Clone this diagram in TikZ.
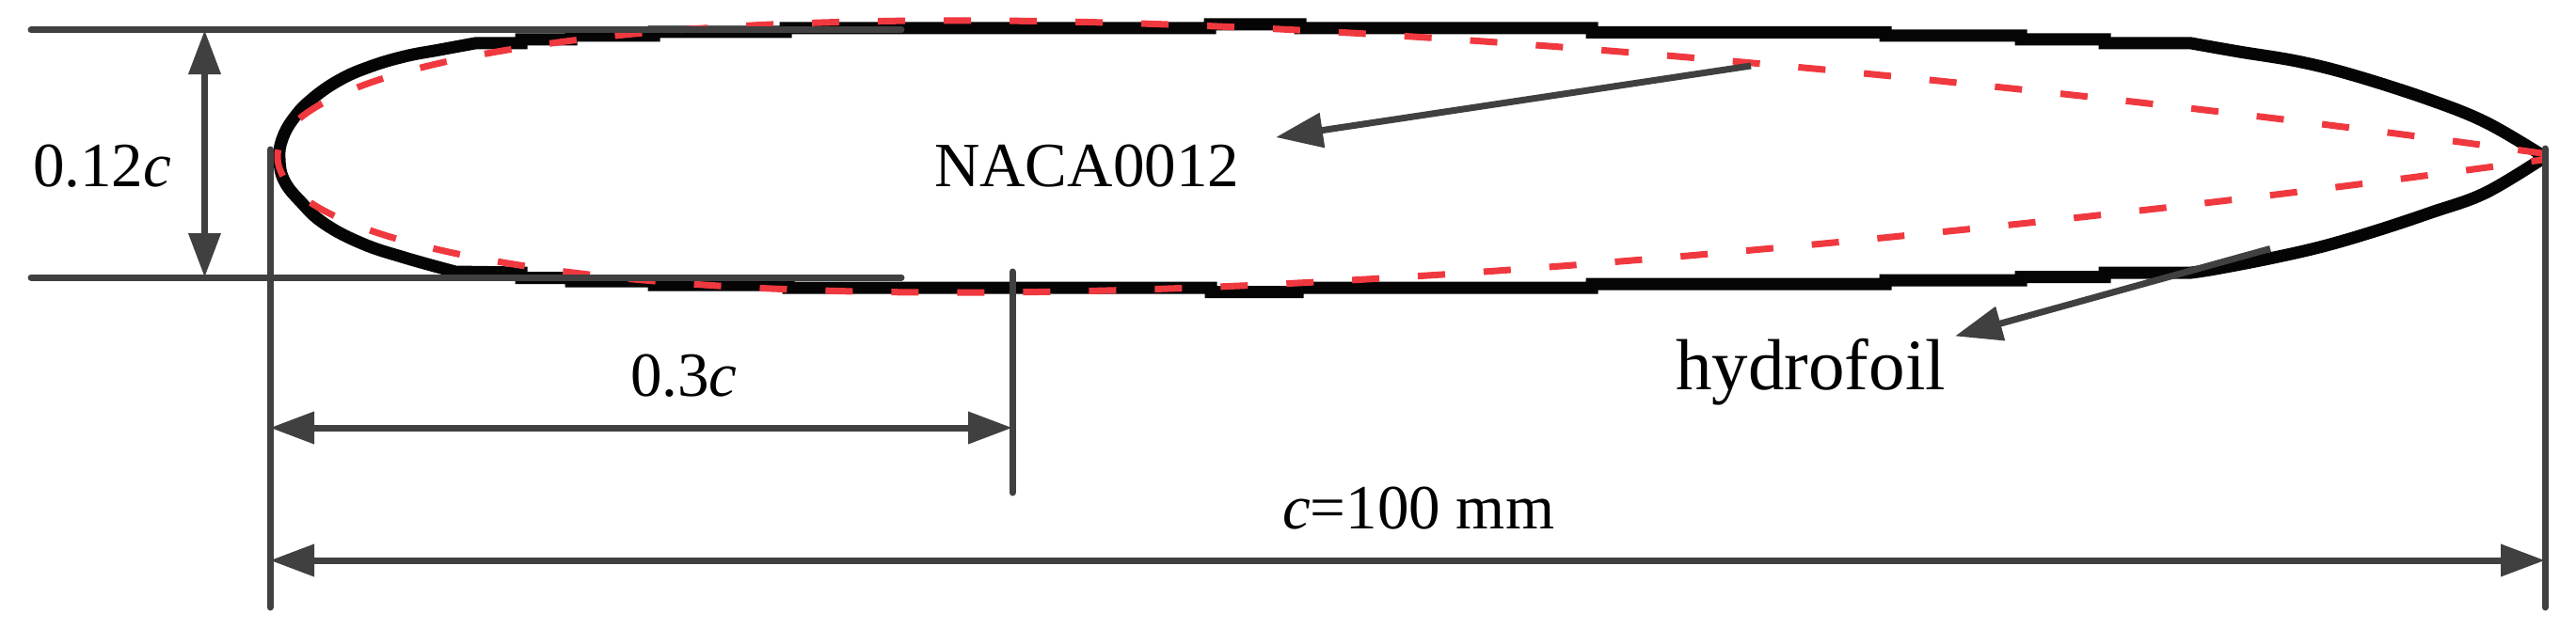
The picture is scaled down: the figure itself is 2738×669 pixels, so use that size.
\documentclass[tikz,border=0pt]{standalone}
\usepackage{fontspec}
\setmainfont{Liberation Serif}
\usetikzlibrary{arrows.meta}
\definecolor{dimgray}{HTML}{404040}
\definecolor{foilblack}{HTML}{050505}
\definecolor{nacared}{HTML}{F0383F}
\tikzset{
  dimline/.style={draw=dimgray,line width=7pt,line cap=round},
  dimarrow/.style={draw=dimgray,fill=dimgray,line width=7pt,{Triangle[length=47pt,width=33pt]}-{Triangle[length=47pt,width=33pt]}},
  leader/.style={draw=dimgray,fill=dimgray,line width=7pt,-{Triangle[length=50pt,width=36pt]}},
  foil/.style={draw=foilblack,line width=13pt,miter limit=1.5},
  naca/.style={draw=nacared,line width=7pt,dash pattern=on 29pt off 41pt},
  label/.style={inner sep=0pt,anchor=base west,font=\fontsize{67}{80}\selectfont}
}
\begin{document}
\begin{tikzpicture}[x=1pt,y=-1pt,
    declare function={nacat(\s)=1446*(0.2969*\s-0.126*\s^2-0.3516*\s^4+0.2843*\s^6-0.1015*\s^8);}]

  \useasboundingbox (0,0) rectangle (2738,669);

  % hydrofoil outline
  \path [foil]
    plot [smooth,tension=0.7] coordinates {(484,289) (430,274) (385,259) (345,238) (320,215) (302,192)
      (297,168.5) (300,148) (312,126) (332,105) (361,85) (393,71) (430,60) (467,53) (505,46)}
    -- (554,46) -- (554,42) -- (607,42) -- (607,38) -- (695,38) -- (695,34) -- (835,34) -- (835,30)
    -- (1286,30) -- (1286,26) -- (1382,26) -- (1382,30) -- (1692,30) -- (1692,34.5) -- (2004,34.5) -- (2004,38)
    -- (2148,38) -- (2148,42) -- (2237,42) -- (2237,46) -- (2329,46)
    -- plot [smooth,tension=0.6] coordinates {(2329,46) (2380,55) (2441,65) (2498,79) (2578,104.5) (2642,130) (2705,167)}
    -- plot [smooth,tension=0.6] coordinates {(2705,167) (2642,205) (2584,226) (2527,245) (2469,262) (2412,275) (2355,286) (2329,290)}
    -- (2237,290) -- (2237,294.5) -- (2148,294.5) -- (2148,298) -- (2004,298) -- (2004,302) -- (1692,302)
    -- (1692,306) -- (1379,306) -- (1379,310.5) -- (1287,310.5) -- (1287,306) -- (838,306) -- (838,303)
    -- (695,303) -- (695,299) -- (607,299) -- (607,295.5) -- (554,295.5) -- (554,290) -- cycle;

  % section from the formula
  \path [naca]
    plot [domain=1:0,samples=160,variable=\s] ({295+2410*\s*\s},{166.5-nacat(\s)})
    -- plot [domain=0:1,samples=160,variable=\s] ({295+2410*\s*\s},{166.5+nacat(\s)});

  \node [label] (thick_label) at (35,198) {0.12\textit{c}};
  \node [label] (naca_label) at (993,198) {NACA0012};
  \node [label] (pos_label) at (670,421) {0.3\textit{c}};
  \node [label] (chord_label) at (1363,562) {\textit{c}=100 mm};
  \node [label,font=\fontsize{77}{90}\selectfont] (foil_label) at (1781,414) {hydrofoil};

  \coordinate (top_l) at (33,32);
  \coordinate (top_r) at (958,32);
  \coordinate (bot_l) at (33,295);
  \coordinate (bot_r) at (958,295);
  \coordinate (thick_t) at (217.5,32);
  \coordinate (thick_b) at (217.5,295);
  \coordinate (le_t) at (287,159);
  \coordinate (le_b) at (287,646);
  \coordinate (pos_t) at (1076,289);
  \coordinate (pos_b) at (1076,524);
  \coordinate (te_t) at (2705,158);
  \coordinate (te_b) at (2705,646);
  \coordinate (pos_l) at (287,455);
  \coordinate (pos_r) at (1076,455);
  \coordinate (chord_l) at (287,596);
  \coordinate (chord_r) at (2705,596);
  \coordinate (naca_from) at (1861,70);
  \coordinate (naca_to) at (1356,146);
  \coordinate (foil_from) at (2413,264.5);
  \coordinate (foil_to) at (2078,357.5);

  \draw [dimline] (top_l) -- (top_r);
  \draw [dimline] (bot_l) -- (bot_r);
  \draw [dimline] (le_t) -- (le_b);
  \draw [dimline] (pos_t) -- (pos_b);
  \draw [dimline] (te_t) -- (te_b);

  \draw [dimarrow] (thick_t) -- (thick_b);
  \draw [dimarrow] (pos_l) -- (pos_r);
  \draw [dimarrow] (chord_l) -- (chord_r);

  \draw [leader] (naca_from) -- (naca_to);
  \draw [leader] (foil_from) -- (foil_to);

\end{tikzpicture}
\end{document}
